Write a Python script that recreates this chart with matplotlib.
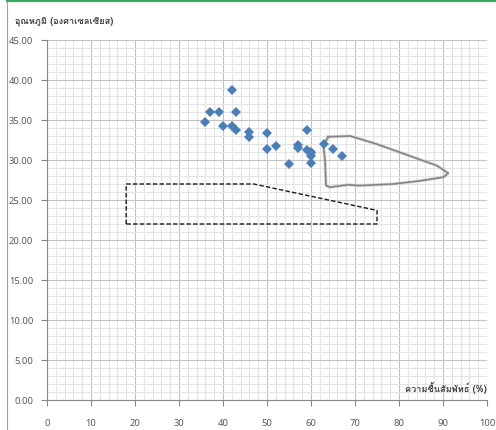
import matplotlib
matplotlib.use("Agg")
import matplotlib.pyplot as plt
from matplotlib import font_manager
from matplotlib.ft2font import FT2Font
from matplotlib.lines import Line2D
from matplotlib.ticker import MultipleLocator, FormatStrFormatter

# Measured conditions: relative humidity (%) vs temperature (deg C)
humidity = [42, 37, 39, 43, 36, 40, 42, 43, 46, 46, 50, 59, 50, 52, 57, 57,
            59, 60, 60, 60, 55, 63, 65, 67, 60]
temperature = [38.7, 36.0, 36.0, 36.0, 34.8, 34.2, 34.3, 33.7, 33.5, 32.9,
               33.4, 33.7, 31.4, 31.8, 31.9, 31.5, 31.3, 30.9, 30.5, 29.6,
               29.5, 32.0, 31.4, 30.5, 31.0]

# Comfort zone (dashed outline)
comfort_rh = [18, 18, 47, 75, 75, 18]
comfort_t = [22, 27, 27, 23.7, 22, 22]

# Hand-drawn zone (gray freeform outline)
zone_rh = [63.9, 68.9, 70.4, 74.9, 82.5, 88.6, 91.2, 90.1, 84.8, 78.7, 71.1,
           68.5, 64.3, 63.4, 63.2, 62.8, 63.9]
zone_t = [32.9, 33.0, 32.75, 32.0, 30.5, 29.3, 28.35, 27.85, 27.4, 27.0,
          26.8, 26.9, 26.6, 26.8, 29.9, 31.8, 32.9]

x_label = "ความชื้นสัมพัทธ์ (%)"
y_label = "อุณหภูมิ (องศาเซลเซียส)"


def find_thai_family():
    preferred = []
    others = []
    for fe in font_manager.fontManager.ttflist:
        try:
            if 0x0E2D in FT2Font(fe.fname).get_charmap():
                if "Sans" in fe.name or "Loma" in fe.name or "Garuda" in fe.name:
                    preferred.append(fe.name)
                else:
                    others.append(fe.name)
        except Exception:
            pass
    found = preferred + others
    return found[0] if found else None


thai = find_thai_family()
label_family = ([thai] if thai else []) + ["Noto Sans", "DejaVu Sans"]

W, H = 496, 431
fig = plt.figure(figsize=(W / 100, H / 100), dpi=100)
ax = fig.add_axes([47 / W, 1 - 401 / H, 440 / W, 360 / H])

ax.set_xlim(0, 100)
ax.set_ylim(0, 45)
ax.xaxis.set_major_locator(MultipleLocator(10))
ax.xaxis.set_minor_locator(MultipleLocator(2))
ax.yaxis.set_major_locator(MultipleLocator(5))
ax.yaxis.set_minor_locator(MultipleLocator(1))
ax.yaxis.set_major_formatter(FormatStrFormatter("%.2f"))

ax.grid(which="major", color="#c4c4c4", linewidth=0.8)
ax.grid(which="minor", color="#e4e4e4", linewidth=0.8)
ax.set_axisbelow(True)

for side in ("top", "right"):
    ax.spines[side].set_visible(False)
for side in ("left", "bottom"):
    ax.spines[side].set_color("#8a8a8a")
    ax.spines[side].set_linewidth(0.8)

ax.tick_params(which="major", direction="out", length=4, width=0.8,
               color="#8a8a8a", labelcolor="#595959", labelsize=6.8)
ax.tick_params(which="minor", length=0)
ax.tick_params(axis="x", pad=9)
ax.tick_params(axis="y", pad=6)
for lbl in ax.get_xticklabels() + ax.get_yticklabels():
    lbl.set_family(["Noto Sans", "DejaVu Sans"])

# Gray freeform zone with soft edge
ax.plot(zone_rh, zone_t, color="#c0c0c0", linewidth=2.4, alpha=0.5,
        solid_joinstyle="round", zorder=3)
ax.plot(zone_rh, zone_t, color="#858585", linewidth=1.2,
        solid_joinstyle="round", zorder=3)

# Dashed comfort zone
ax.plot(comfort_rh, comfort_t, color="#1a1a1a", linewidth=1.0,
        linestyle=(0, (3.2, 1.6)), zorder=3)

ax.plot(humidity, temperature, linestyle="none", marker="D", markersize=4.8,
        color="#4a7ebb", markeredgewidth=0, zorder=4)

fig.text(15 / W, 1 - 21 / H, y_label, family=label_family, fontsize=6.6,
         fontweight="bold", color="#404040", va="center", ha="left")
ax.text(100, 1.6, x_label, family=label_family, fontsize=6.6,
        fontweight="bold", color="#404040", va="center", ha="right")

# Chart frame
fig.add_artist(Line2D([7 / W, 7 / W], [0, 1 - 2 / H], color="#a0a0a0",
                      linewidth=0.8, transform=fig.transFigure))
fig.add_artist(Line2D([7 / W, 1], [1 - 2 / H, 1 - 2 / H], color="#3aa860",
                      linewidth=1.6, transform=fig.transFigure))

fig.savefig("out.png", dpi=100)
